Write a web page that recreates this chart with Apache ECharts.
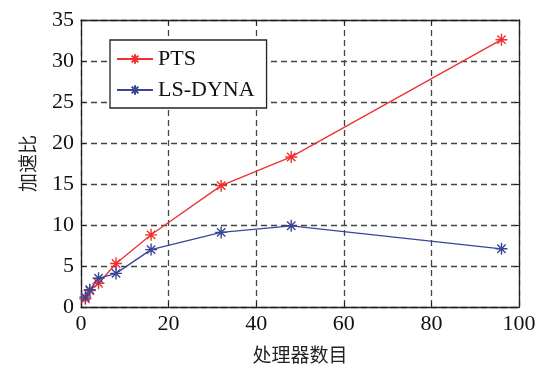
<!DOCTYPE html>
<html>
<head>
<meta charset="utf-8">
<script src="https://cdn.jsdelivr.net/npm/echarts@6/dist/echarts.min.js"></script>
<style>
  html, body { margin: 0; padding: 0; background: #fff; }
  #chart { width: 548px; height: 369px; }
</style>
</head>
<body>
<div id="chart"></div>
<script>
// 处理器数目 (x) 与加速比 (y)
var processors = [1, 2, 4, 8, 16, 32, 48, 96]
var ptsSpeedup = [1.0, 2.0, 2.9, 5.3, 8.8, 14.8, 18.3, 32.6]
var lsDynaSpeedup = [1.2, 2.1, 3.5, 4.1, 7.0, 9.1, 9.9, 7.1]
var seriesNames = ['PTS', 'LS-DYNA']
var seriesColors = ['#ee3030', '#3a4598']

var star = 'path://M0,-10L0,10M-10,0L10,0M-7,-7L7,7M-7,7L7,-7'
var serif = '"Liberation Serif", "Times New Roman", serif'
var cjk = '"Noto Sans CJK SC", sans-serif'

function pairs (xs, ys) {
  return xs.map(function (x, i) { return [x, ys[i]] })
}

function makeSeries (name, color, values) {
  return {
    name: name,
    type: 'line',
    data: pairs(processors, values),
    symbol: star,
    symbolSize: 12,
    lineStyle: { color: color, width: 1.3 },
    itemStyle: { color: color, borderColor: color, borderWidth: 1.4 },
    xAxisIndex: 0,
    yAxisIndex: 0
  }
}

var chart = echarts.init(document.getElementById('chart'))
var gridLine = { show: true, lineStyle: { color: '#444', width: 1.3, type: [6, 4] } }
var axisLine = { show: true, onZero: false, lineStyle: { color: '#222', width: 1.3 } }

var option = {
  animation: false,
  backgroundColor: '#fff',
  grid: { left: 81, right: 29, top: 20, bottom: 61 },
  legend: {
    left: 110,
    top: 40,
    orient: 'vertical',
    data: seriesNames,
    itemWidth: 36,
    itemHeight: 12,
    itemGap: 9,
    padding: [8, 12, 7, 6],
    borderColor: '#222',
    borderWidth: 1.3,
    backgroundColor: '#fff',
    textStyle: { fontFamily: serif, fontSize: 22, color: '#111' }
  },
  xAxis: [{
    type: 'value',
    min: 0,
    max: 100,
    interval: 20,
    name: '处理器数目',
    nameLocation: 'middle',
    nameGap: 38,
    nameTextStyle: { fontFamily: cjk, fontSize: 19, color: '#222' },
    axisLine: axisLine,
    axisTick: { show: true, inside: true, length: 5, lineStyle: { color: '#222' } },
    axisLabel: { fontFamily: serif, fontSize: 22, color: '#111', margin: 6 },
    splitLine: gridLine
  }, {
    type: 'value',
    position: 'top',
    min: 0,
    max: 100,
    interval: 20,
    axisLine: axisLine,
    axisTick: { show: true, inside: true, length: 5, lineStyle: { color: '#222' } },
    axisLabel: { show: false },
    splitLine: { show: false }
  }],
  yAxis: [{
    type: 'value',
    min: 0,
    max: 35,
    interval: 5,
    name: '加速比',
    nameLocation: 'middle',
    nameGap: 44,
    nameRotate: 90,
    nameTextStyle: { fontFamily: cjk, fontSize: 19, color: '#222' },
    axisLine: axisLine,
    axisTick: { show: true, inside: true, length: 5, lineStyle: { color: '#222' } },
    axisLabel: { fontFamily: serif, fontSize: 22, color: '#111', margin: 7 },
    splitLine: gridLine
  }, {
    type: 'value',
    position: 'right',
    min: 0,
    max: 35,
    interval: 5,
    axisLine: axisLine,
    axisTick: { show: true, inside: true, length: 5, lineStyle: { color: '#222' } },
    axisLabel: { show: false },
    splitLine: { show: false }
  }],
  series: [
    makeSeries(seriesNames[0], seriesColors[0], ptsSpeedup),
    makeSeries(seriesNames[1], seriesColors[1], lsDynaSpeedup)
  ]
}

chart.setOption(option, true)
</script>
</body>
</html>
